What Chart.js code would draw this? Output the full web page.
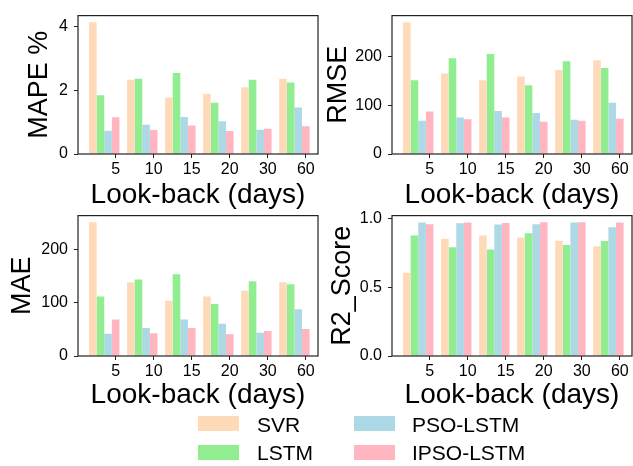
<!DOCTYPE html>
<html><head><meta charset="utf-8">
<script src="https://cdn.jsdelivr.net/npm/chart.js@4/dist/chart.umd.min.js"></script>
<style>
html,body{margin:0;padding:0;background:#fff;width:633px;height:466px;overflow:hidden;font-family:'Liberation Sans',Arial,sans-serif;}
canvas{position:absolute;}
.leg-box{position:absolute;width:41px;height:15px;}
.leg-txt{position:absolute;font-size:21px;line-height:21px;color:#000;white-space:nowrap;}
</style></head><body>
<canvas id="c1" width="320" height="212" style="left:0;top:0"></canvas>
<canvas id="c2" width="317" height="212" style="left:316px;top:0"></canvas>
<canvas id="c3" width="320" height="212" style="left:0;top:200px"></canvas>
<canvas id="c4" width="317" height="212" style="left:316px;top:200px"></canvas>
<div id="legend"></div>
<script>
const lookBack = ['5','10','15','20','30','60'];
const models = ['SVR','LSTM','PSO-LSTM','IPSO-LSTM'];
const colors = ['#FFDAB9','#90EE90','#ADD8E6','#FFB6C1'];

const mapeSVR  = [4.13,2.33,1.77,1.89,2.09,2.36];
const mapeLSTM = [1.84,2.36,2.54,1.61,2.33,2.24];
const mapePSO  = [0.73,0.92,1.16,1.03,0.76,1.46];
const mapeIPSO = [1.15,0.75,0.89,0.72,0.79,0.87];

const rmseSVR  = [270,165,151,159,172,192];
const rmseLSTM = [151,196,205,141,190,176];
const rmsePSO  = [68,75,88,84,70,105];
const rmseIPSO = [87,71,75,66,68,72];

const maeSVR  = [252,139,104,112,123,139];
const maeLSTM = [112,144,154,98,141,135];
const maePSO  = [42,53,69,61,44,88];
const maeIPSO = [69,43,53,41,47,51];

const r2SVR  = [0.605,0.851,0.875,0.861,0.837,0.797];
const r2LSTM = [0.875,0.790,0.773,0.891,0.806,0.835];
const r2PSO  = [0.969,0.965,0.955,0.957,0.969,0.936];
const r2IPSO = [0.957,0.969,0.967,0.972,0.972,0.969];

const mapeTicks = [0,2,4];
const rmseTicks = [0,100,200];
const maeTicks  = [0,100,200];
const r2Ticks   = [0,0.5,1.0];

const F = "'Liberation Sans', Arial, sans-serif";

const framePlugin = {
  id: 'frame',
  afterDatasetsDraw(chart) {
    const {ctx, chartArea: a} = chart;
    ctx.save();
    ctx.strokeStyle = '#222';
    ctx.lineWidth = 1.2;
    ctx.strokeRect(a.left, a.top, a.right - a.left, a.bottom - a.top);
    ctx.restore();
  }
};

function makeChart(id, series, cfg) {
  const datasets = series.map((vals, k) => ({
    label: models[k],
    data: vals.map((v, i) => ({x: i, y: v})),
    backgroundColor: colors[k],
    borderWidth: 0,
    barPercentage: 1.0,
    categoryPercentage: 0.8
  }));
  return new Chart(document.getElementById(id), {
    type: 'bar',
    data: {datasets},
    plugins: [framePlugin],
    options: {
      responsive: false,
      animation: false,
      devicePixelRatio: 1,
      layout: {padding: {top: cfg.padTop, right: cfg.padRight, left: 0, bottom: 0}},
      plugins: {legend: {display: false}, tooltip: {enabled: false}},
      scales: {
        x: {
          type: 'linear', min: -0.69, max: 5.62, offset: false,
          afterBuildTicks: s => { s.ticks = lookBack.map((_, i) => ({value: i + 0.3})); },
          afterFit: s => { s.height = cfg.xH; },
          ticks: {autoSkip: false, maxRotation: 0, minRotation: 0, padding: 2, color: '#000',
                  font: {size: 16, family: F}, callback: (v, i) => lookBack[i]},
          grid: {display: true, drawOnChartArea: false, drawTicks: true, tickLength: 4, tickColor: '#222', offset: false},
          border: {display: false},
          title: {display: true, text: 'Look-back (days)', color: '#000', font: {size: 28, family: F, lineHeight: 1.2}, padding: {top: 0, bottom: 0}}
        },
        y: {
          min: 0, max: cfg.yMax,
          afterBuildTicks: s => { s.ticks = cfg.yTicks.map(v => ({value: v})); },
          afterFit: s => { s.width = cfg.yW; },
          ticks: {padding: 6, color: '#000', font: {size: 16, family: F}, callback: cfg.fmt},
          grid: {display: true, drawOnChartArea: false, drawTicks: true, tickLength: 4, tickColor: '#222'},
          border: {display: false},
          title: {display: true, text: cfg.yTitle, color: '#000', font: {size: 27, family: F, lineHeight: 1.2}, padding: {top: cfg.tPad, bottom: 0}}
        }
      }
    }
  });
}

makeChart('c1', [mapeSVR, mapeLSTM, mapePSO, mapeIPSO],
  {yTitle: 'MAPE %', yMax: 4.34, yTicks: mapeTicks, fmt: v => String(v), yW: 78, padTop: 10, padRight: 2, xH: 58, tPad: 23});
makeChart('c2', [rmseSVR, rmseLSTM, rmsePSO, rmseIPSO],
  {yTitle: 'RMSE', yMax: 283.5, yTicks: rmseTicks, fmt: v => String(v), yW: 76, padTop: 10, padRight: 1, xH: 58, tPad: 6});
makeChart('c3', [maeSVR, maeLSTM, maePSO, maeIPSO],
  {yTitle: 'MAE', yMax: 264.6, yTicks: maeTicks, fmt: v => String(v), yW: 78, padTop: 12, padRight: 2, xH: 56, tPad: 6});
makeChart('c4', [r2SVR, r2LSTM, r2PSO, r2IPSO],
  {yTitle: 'R2_Score', yMax: 1.02, yTicks: r2Ticks, fmt: v => v.toFixed(1), yW: 76, padTop: 12, padRight: 1, xH: 56, tPad: 10});

// legend (HTML)
const legPos = [[198, 416, 257, 414], [198, 445, 257, 442], [354, 416, 412, 414], [354, 445, 412, 442]];
const leg = document.getElementById('legend');
models.forEach((m, k) => {
  const p = legPos[k];
  const b = document.createElement('div');
  b.className = 'leg-box'; b.style.left = p[0] + 'px'; b.style.top = p[1] + 'px'; b.style.background = colors[k];
  const t = document.createElement('div');
  t.className = 'leg-txt'; t.style.left = p[2] + 'px'; t.style.top = p[3] + 'px'; t.textContent = m;
  leg.appendChild(b); leg.appendChild(t);
});
</script>
</body></html>
